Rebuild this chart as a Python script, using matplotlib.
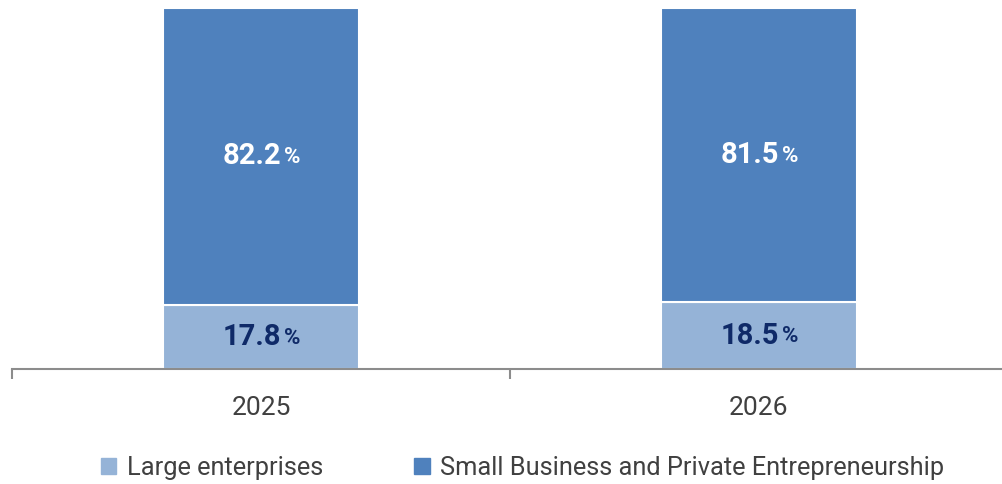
import matplotlib.pyplot as plt
from matplotlib.patches import Patch

plt.rcParams['font.family'] = ['Roboto', 'DejaVu Sans']

years = ['2025', '2026']
large = [17.8, 18.5]
small = [82.2, 81.5]
series_names = ['Large enterprises', 'Small Business and Private Entrepreneurship']

c_large = '#95b3d7'
c_small = '#4f81bd'
c_navy = '#0f2a68'

fig = plt.figure(figsize=(10.03, 4.84), dpi=100)
ax = fig.add_axes([12 / 1003, 1 - 369 / 484, 996 / 1003, 361 / 484])

x = range(len(years))
ax.bar(x, large, width=0.394, color=c_large, edgecolor='white', linewidth=1.5)
ax.bar(x, small, bottom=large, width=0.394, color=c_small, edgecolor='white', linewidth=1.5)

def pct_label(xi, y, val, color):
    # number and a smaller percent sign, side by side around the bar centre
    ax.annotate(f'{val:.1f}', (xi, y), xytext=(14.5, 0), textcoords='offset points',
                ha='right', va='center', fontsize=21, fontweight='bold', color=color)
    ax.annotate('%', (xi, y), xytext=(16.5, -0.5), textcoords='offset points',
                ha='left', va='center', fontsize=16, fontweight='bold', color=color)

for i in x:
    pct_label(i, large[i] / 2, large[i], c_navy)
    pct_label(i, large[i] + small[i] / 2, small[i], 'white')

ax.set_xlim(-0.5, 1.5)
ax.set_ylim(0, 100)
ax.set_yticks([])
for s in ['top', 'right', 'left']:
    ax.spines[s].set_visible(False)
ax.spines['bottom'].set_color('#8c8c8c')
ax.spines['bottom'].set_linewidth(1.5)

ax.set_xticks([-0.5, 0.5, 1.5])
ax.set_xticklabels([])
ax.tick_params(axis='x', length=7, width=1.5, color='#8c8c8c')
for i, yr in enumerate(years):
    ax.text(i, -10.8, yr, ha='center', va='center', fontsize=19, color='#404040')

handles = [Patch(color=c_large), Patch(color=c_small)]
fig.legend(handles, series_names, loc='center', bbox_to_anchor=(0.521, 1 - 468 / 484),
           ncol=2, frameon=False, fontsize=18.3, labelcolor='#404040',
           handlelength=0.6, handleheight=0.6, handletextpad=0.4, columnspacing=3.6)

fig.savefig('out.png', dpi=100)
